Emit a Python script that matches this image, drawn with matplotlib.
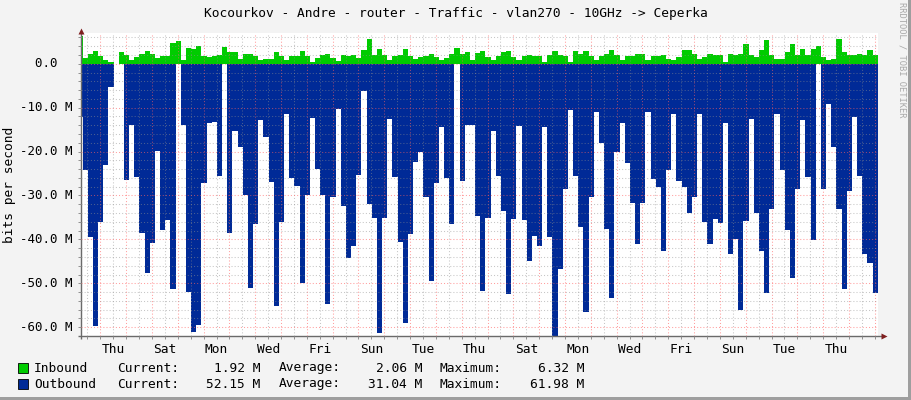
import numpy as np
import matplotlib.pyplot as plt
from matplotlib.patches import Rectangle

plt.rcParams["font.family"] = "DejaVu Sans Mono"

# 4.8 h averages, time in hours from Thursday 00:00
t_start = -21.25
step_h = 4.8

# Mbit/s
inbound = [
    6.32, 1.3, 2.3, 3.0, 1.7, 0.9, 0.3, 0.0, 2.7, 2.0,
    0.75, 1.5, 2.3, 3.0, 2.3, 1.3, 1.7, 1.7, 4.7, 5.1,
    0.75, 3.6, 3.35, 4.1, 1.8, 1.5, 1.7, 1.9, 3.9, 2.6,
    2.6, 1.1, 2.3, 2.3, 1.7, 0.9, 1.1, 1.1, 2.6, 1.7,
    0.75, 1.7, 1.7, 2.8, 1.7, 0.5, 1.3, 2.0, 2.3, 1.3,
    0.7, 2.0, 1.7, 2.0, 1.2, 3.2, 5.7, 2.05, 3.4, 2.05,
    0.9, 1.7, 2.05, 3.4, 1.8, 1.1, 1.45, 1.7, 2.3, 1.5,
    0.75, 1.3, 2.3, 3.6, 2.3, 2.6, 0.9, 2.4, 3.0, 1.6,
    0.75, 1.7, 2.6, 3.0, 1.45, 0.75, 1.7, 1.9, 1.7, 1.7,
    0.5, 2.05, 2.8, 1.9, 1.7, 0.5, 3.0, 2.2, 2.8, 1.8,
    0.75, 1.7, 2.3, 3.2, 2.0, 0.9, 1.7, 1.8, 2.3, 2.3,
    0.75, 1.7, 1.7, 2.05, 1.15, 0.75, 1.45, 3.05, 3.2, 2.3,
    1.1, 1.45, 2.3, 2.05, 1.9, 0.5, 2.3, 1.9, 2.3, 4.55,
    2.05, 1.45, 3.2, 5.5, 2.05, 1.15, 1.15, 2.6, 4.55, 1.9,
    3.4, 1.9, 3.4, 4.1, 1.45, 0.75, 1.15, 5.7, 2.6, 1.9,
    1.9, 2.3, 2.05, 3.2, 1.92,
]
outbound = [
    -12.2, -24.3, -39.5, -59.7, -36.0, -23.0, -5.2, 0.0, 0.0, -26.4,
    -13.9, -25.7, -38.6, -47.6, -40.9, -19.8, -37.8, -35.6, -51.3, 0.0,
    -13.9, -51.9, -61.2, -59.5, -27.2, -13.5, -13.2, -25.5, 0.0, -38.5,
    -15.4, -19.0, -30.0, -51.0, -36.4, -12.9, -16.6, -27.0, -55.2, -36.0,
    -11.4, -26.0, -27.9, -50.0, -29.9, -12.4, -24.0, -29.9, -54.8, -30.3,
    -10.3, -32.3, -44.3, -41.4, -25.3, -6.3, -31.9, -35.1, -61.3, -35.1,
    -12.5, -25.9, -40.5, -59.0, -38.7, -22.3, -20.2, -30.3, -49.4, -27.1,
    -14.3, -26.1, -36.6, 0.0, -26.8, -14.0, -14.0, -34.6, -51.7, -35.1,
    -15.4, -25.5, -33.5, -52.5, -35.4, -14.1, -35.6, -44.9, -39.2, -41.4,
    -14.5, -39.4, -61.98, -46.7, -28.5, -10.6, -25.5, -37.1, -56.5, -30.4,
    -11.0, -18.0, -37.6, -53.3, -20.1, -13.4, -22.5, -31.6, -41.0, -31.6,
    -11.1, -26.3, -28.1, -42.6, -24.2, -11.4, -26.6, -28.0, -33.9, -30.3,
    -11.4, -36.0, -41.0, -35.4, -36.2, -13.4, -43.4, -40.0, -56.0, -35.8,
    -12.6, -34.1, -42.6, -52.1, -33.1, -11.4, -24.2, -37.9, -48.7, -28.5,
    -12.8, -25.9, -40.2, 0.0, -28.5, -9.1, -18.9, -33.1, -51.3, -29.0,
    -12.2, -25.5, -43.3, -45.3, -52.15,
]

day_labels = ["Thu", "Sat", "Mon", "Wed", "Fri", "Sun", "Tue",
              "Thu", "Sat", "Mon", "Wed", "Fri", "Sun", "Tue", "Thu"]
y_ticks = [0, -10, -20, -30, -40, -50, -60]
y_labels = ["  0.0", "-10.0 M", "-20.0 M", "-30.0 M", "-40.0 M", "-50.0 M", "-60.0 M"]

legend_names = ["Inbound", "Outbound"]
legend_colors = ["#00cc00", "#002a97"]
legend_current = ["1.92 M", "52.15 M"]
legend_average = ["2.06 M", "31.04 M"]
legend_maximum = ["6.32 M", "61.98 M"]

title = "Kocourkov - Andre - router - Traffic - vlan270 - 10GHz -> Ceperka"

W, H = 911, 400
fig = plt.figure(figsize=(W / 100, H / 100), dpi=100, facecolor="#f3f3f3")
ax = fig.add_axes([81 / W, 1 - 336 / H, 797 / W, 303 / H])
ax.set_facecolor("white")

edges = t_start + step_h * np.arange(len(inbound) + 1)
ax.stairs(inbound, edges, fill=True, baseline=0, color=legend_colors[0], lw=0)
ax.stairs(outbound, edges, fill=True, baseline=0, color=legend_colors[1], lw=0)

ax.set_xlim(-18, 723)
ax.set_ylim(-62, 7)

# grid: red at midnight / every 10 M, grey at noon / every 2 M
ax.set_xticks(np.arange(0, 721, 24))
ax.set_xticklabels([])
noons = np.arange(-12, 721, 24)
noon_labels = [""] * len(noons)
noon_labels[1::2] = day_labels
ax.set_xticks(noons, labels=noon_labels, minor=True)
ax.set_yticks(y_ticks)
ax.set_yticks([v for v in range(-60, 7, 2) if v % 10 != 0], minor=True)

ax.grid(which="major", color="#ff5f5f", alpha=0.6, ls=(0, (1, 2)), lw=0.75)
ax.grid(which="minor", color="#8f8f8f", alpha=0.5, ls=(0, (1, 2)), lw=0.75)
ax.set_axisbelow(False)

ax.tick_params(axis="both", which="both", length=2, width=0.7,
               color="#8f8f8f", direction="out")
ax.tick_params(axis="x", which="minor", labelsize=9.3, pad=3)
ax.tick_params(axis="y", which="both", labelleft=False)

for s in ax.spines.values():
    s.set_visible(False)

# axes with arrows
axis_col = "#6a6a6a"
ax.plot([-0.004, 1.006], [0, 0], transform=ax.transAxes, color=axis_col,
        lw=1, clip_on=False, solid_capstyle="butt")
ax.plot([0, 0], [-0.01, 1.0], transform=ax.transAxes, color=axis_col,
        lw=1, clip_on=False, solid_capstyle="butt")
ax.plot([1.008], [0], marker=">", ms=4, color="#7f1f1f", mec="none",
        transform=ax.transAxes, clip_on=False)
ax.plot([0], [1.006], marker="^", ms=4, color="#7f1f1f", mec="none",
        transform=ax.transAxes, clip_on=False)

for v, lab in zip(y_ticks, y_labels):
    ax.text((20 - 81) / 797, v, lab, transform=ax.get_yaxis_transform(),
            ha="left", va="center", fontsize=9.0)

fig.text(455.5 / W, 1 - 13 / H, title, ha="center", va="center", fontsize=9.3)
fig.text(10 / W, 1 - 185 / H, "bits per second", rotation=90,
         ha="center", va="center", fontsize=9.3)
fig.text(902 / W, 1 - 60 / H, "RRDTOOL / TOBI OETIKER", rotation=270,
         ha="center", va="center", fontsize=6.3, color="#a8a8a8")

# legend
for i, row_y in enumerate([368, 384]):
    fy = 1 - row_y / H
    fig.patches.append(Rectangle((18 / W, 1 - (row_y + 5) / H), 10 / W, 10 / H,
                                 transform=fig.transFigure, fc=legend_colors[i],
                                 ec="black", lw=0.6))
    fig.text(34 / W, fy, legend_names[i], ha="left", va="center", fontsize=9.3)
    fig.text(117 / W, fy, "Current:", ha="left", va="center", fontsize=9.3)
    fig.text(260 / W, fy, legend_current[i], ha="right", va="center", fontsize=9.3)
    fig.text(279 / W, fy, "Average:", ha="left", va="center", fontsize=9.3)
    fig.text(422 / W, fy, legend_average[i], ha="right", va="center", fontsize=9.3)
    fig.text(440 / W, fy, "Maximum:", ha="left", va="center", fontsize=9.3)
    fig.text(584 / W, fy, legend_maximum[i], ha="right", va="center", fontsize=9.3)

# shaded frame
fig.patches.append(Rectangle((1 - 3 / W, 0), 3 / W, 1, transform=fig.transFigure,
                             fc="#9e9e9e", ec="none"))
fig.patches.append(Rectangle((0, 0), 1, 3 / H, transform=fig.transFigure,
                             fc="#9e9e9e", ec="none"))

fig.savefig("out.png", dpi=100, facecolor=fig.get_facecolor())
